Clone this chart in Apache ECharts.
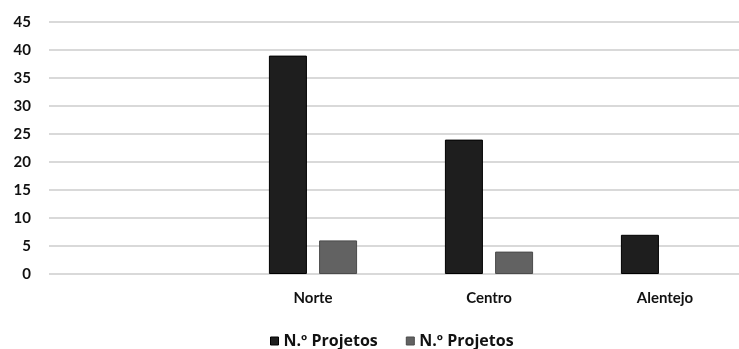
<!DOCTYPE html>
<html>
<head>
<meta charset="utf-8">
<script src="https://cdn.jsdelivr.net/npm/echarts@6/dist/echarts.min.js"></script>
<style>
html,body{margin:0;padding:0;background:#fff;}
#chart{width:739px;height:349px;}
</style>
</head>
<body>
<div id="chart"></div>
<script>
const categories = ['', 'Norte', 'Centro', 'Alentejo'];
const seriesNames = ['N.º Projetos', 'N.º Projetos'];
const series1 = [null, 39, 24, 7];
const series2 = [null, 6, 4, null];
const yTicks = [0, 5, 10, 15, 20, 25, 30, 35, 40, 45];

const FONT = 'Lato';
const chart = echarts.init(document.getElementById('chart'), null, {renderer: 'canvas'});
chart.setOption({
  animation: false,
  backgroundColor: '#ffffff',
  grid: {left: 49, top: 22, width: 704, height: 252, containLabel: false, outerBoundsMode: 'none'},
  legend: {
    left: 270, top: 333, padding: 0,
    itemWidth: 8, itemHeight: 8, itemGap: 28,
    icon: 'rect',
    textStyle: {fontFamily: 'Open Sans', fontWeight: 'bold', fontSize: 16, color: '#111'},
    data: [
      {name: 'A', itemStyle: {color: '#1e1e1e', borderColor: '#000', borderWidth: 1}},
      {name: 'B', itemStyle: {color: '#626262', borderColor: '#4a4a4a', borderWidth: 1}}
    ],
    formatter: function (n) { return n === 'A' ? seriesNames[0] : seriesNames[1]; }
  },
  xAxis: {
    type: 'category',
    data: categories,
    axisLine: {show: false},
    axisTick: {show: false},
    axisLabel: {fontFamily: FONT, fontWeight: 'bold', fontSize: 15, color: '#111', margin: 17}
  },
  yAxis: {
    type: 'value',
    min: yTicks[0], max: yTicks[yTicks.length - 1], interval: 5,
    axisLine: {show: false},
    axisTick: {show: false},
    splitLine: {lineStyle: {color: '#d9d9d9', width: 2}},
    axisLabel: {fontFamily: FONT, fontWeight: 'bold', fontSize: 15, color: '#111', margin: 18}
  },
  series: [
    {name: 'A', type: 'bar', data: series1, barWidth: 38, barGap: '32%',
     itemStyle: {color: '#1e1e1e', borderColor: '#000', borderWidth: 1}},
    {name: 'B', type: 'bar', data: series2, barWidth: 38,
     itemStyle: {color: '#626262', borderColor: '#4a4a4a', borderWidth: 1}}
  ]
});
</script>
</body>
</html>
